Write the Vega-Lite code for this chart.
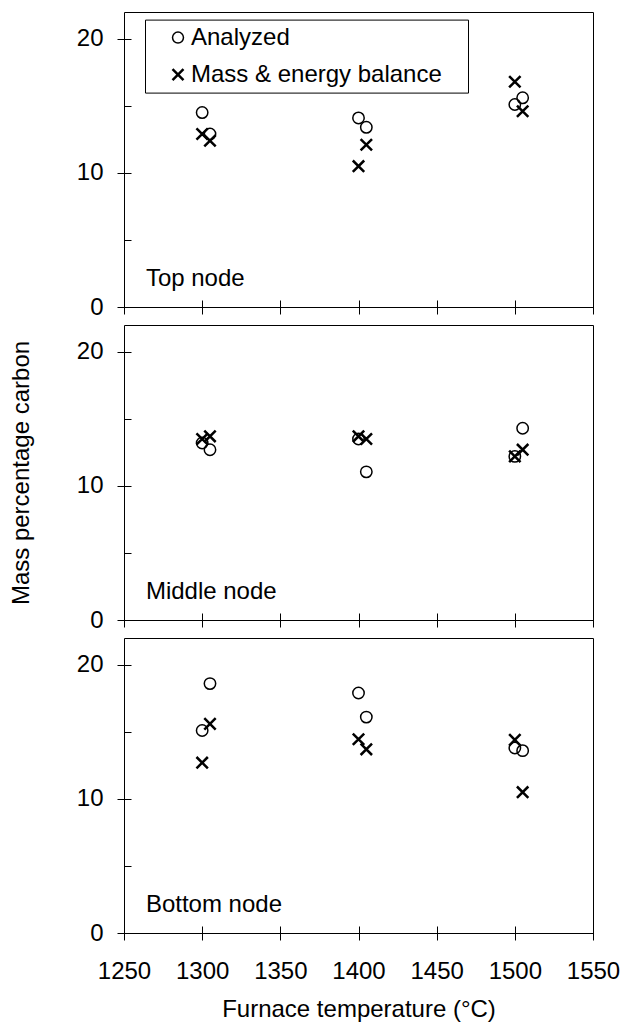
{
  "$schema": "https://vega.github.io/schema/vega-lite/v6.json",
  "padding": {"left": 8, "top": 11, "right": 5, "bottom": 5},
  "config": {
    "font": "Liberation Sans",
    "view": {"stroke": "black", "strokeWidth": 1},
    "axis": {
      "domain": false, "grid": false, "tickColor": "black", "tickWidth": 1, "labelOverlap": false, "labelFlush": false,
      "labelFontSize": 24, "labelColor": "black", "labelFont": "Liberation Sans",
      "titleFontSize": 24, "titleFontWeight": "normal", "titleColor": "black", "titleFont": "Liberation Sans"
    },
    "legend": {
      "labelFontSize": 24, "labelColor": "black", "labelFont": "Liberation Sans", "labelLimit": 500
    }
  },
  "datasets": {
    "pts": [
      {"node": "Top", "series": "Analyzed", "T": 1300, "C": 14.5},
      {"node": "Top", "series": "Analyzed", "T": 1305, "C": 12.9},
      {"node": "Top", "series": "Analyzed", "T": 1400, "C": 14.1},
      {"node": "Top", "series": "Analyzed", "T": 1405, "C": 13.4},
      {"node": "Top", "series": "Analyzed", "T": 1500, "C": 15.1},
      {"node": "Top", "series": "Analyzed", "T": 1505, "C": 15.6},
      {"node": "Top", "series": "Mass & energy balance", "T": 1300, "C": 12.9},
      {"node": "Top", "series": "Mass & energy balance", "T": 1305, "C": 12.4},
      {"node": "Top", "series": "Mass & energy balance", "T": 1400, "C": 10.5},
      {"node": "Top", "series": "Mass & energy balance", "T": 1405, "C": 12.1},
      {"node": "Top", "series": "Mass & energy balance", "T": 1500, "C": 16.8},
      {"node": "Top", "series": "Mass & energy balance", "T": 1505, "C": 14.6},
      {"node": "Middle", "series": "Analyzed", "T": 1300, "C": 13.2},
      {"node": "Middle", "series": "Analyzed", "T": 1305, "C": 12.7},
      {"node": "Middle", "series": "Analyzed", "T": 1400, "C": 13.5},
      {"node": "Middle", "series": "Analyzed", "T": 1405, "C": 11.05},
      {"node": "Middle", "series": "Analyzed", "T": 1500, "C": 12.2},
      {"node": "Middle", "series": "Analyzed", "T": 1505, "C": 14.3},
      {"node": "Middle", "series": "Mass & energy balance", "T": 1300, "C": 13.5},
      {"node": "Middle", "series": "Mass & energy balance", "T": 1305, "C": 13.7},
      {"node": "Middle", "series": "Mass & energy balance", "T": 1400, "C": 13.7},
      {"node": "Middle", "series": "Mass & energy balance", "T": 1405, "C": 13.5},
      {"node": "Middle", "series": "Mass & energy balance", "T": 1500, "C": 12.2},
      {"node": "Middle", "series": "Mass & energy balance", "T": 1505, "C": 12.7},
      {"node": "Bottom", "series": "Analyzed", "T": 1300, "C": 15.1},
      {"node": "Bottom", "series": "Analyzed", "T": 1305, "C": 18.6},
      {"node": "Bottom", "series": "Analyzed", "T": 1400, "C": 17.9},
      {"node": "Bottom", "series": "Analyzed", "T": 1405, "C": 16.1},
      {"node": "Bottom", "series": "Analyzed", "T": 1500, "C": 13.8},
      {"node": "Bottom", "series": "Analyzed", "T": 1505, "C": 13.6},
      {"node": "Bottom", "series": "Mass & energy balance", "T": 1300, "C": 12.7},
      {"node": "Bottom", "series": "Mass & energy balance", "T": 1305, "C": 15.6},
      {"node": "Bottom", "series": "Mass & energy balance", "T": 1400, "C": 14.45},
      {"node": "Bottom", "series": "Mass & energy balance", "T": 1405, "C": 13.7},
      {"node": "Bottom", "series": "Mass & energy balance", "T": 1500, "C": 14.4},
      {"node": "Bottom", "series": "Mass & energy balance", "T": 1505, "C": 10.5}
    ]
  },
  "spacing": 4,
  "resolve": {"legend": {"shape": "independent", "strokeWidth": "independent"}},
  "vconcat": [
    {
      "width": 469, "height": 295,
      "layer": [
        {
          "data": {"name": "pts"},
          "transform": [{"filter": "datum.node === 'Top'"}],
          "mark": {"type": "point", "filled": false, "color": "black", "size": 130, "opacity": 1},
          "encoding": {
            "x": {"field": "T", "type": "quantitative", "scale": {"domain": [1250, 1550], "nice": false},
                  "axis": {"values": [1250, 1300, 1350, 1400, 1450, 1500, 1550], "offset": -7, "tickSize": 14, "labels": false, "title": null}},
            "y": {"field": "C", "type": "quantitative", "scale": {"domain": [0, 22], "nice": false},
                  "axis": {"values": [0, 5, 10, 15, 20], "offset": -7,
                           "tickSize": {"condition": {"test": "datum.value % 10 === 0", "value": 14}, "value": 7},
                           "labelExpr": "datum.value % 10 === 0 ? datum.label : ''", "labelPadding": 14, "title": null}},
            "shape": {"field": "series", "type": "nominal",
                      "scale": {"domain": ["Analyzed", "Mass & energy balance"], "range": ["circle", "M-1,-1L1,1M-1,1L1,-1"]},
                      "legend": {"orient": "none", "legendX": 21, "legendY": 7.6, "title": null, "strokeColor": "black", "fillColor": "white",
                                 "padding": 6, "symbolOffset": 15, "labelOffset": 1, "rowPadding": 13, "symbolSize": 120,
                                 "symbolStrokeColor": "black", "labelExpr": "datum.label + '\u00a0\u00a0\u00a0\u200b'"}},
            "strokeWidth": {"field": "series", "type": "nominal",
                      "scale": {"domain": ["Analyzed", "Mass & energy balance"], "range": [1.5, 2.5]},
                      "legend": {"orient": "none", "legendX": 21, "legendY": 7.6, "title": null, "strokeColor": "black", "fillColor": "white",
                                 "padding": 6, "symbolOffset": 15, "labelOffset": 1, "rowPadding": 13, "symbolSize": 120,
                                 "symbolStrokeColor": "black", "labelExpr": "datum.label + '\u00a0\u00a0\u00a0\u200b'"}}
          }
        },
        {
          "data": {"values": [{"label": "Top node"}]},
          "mark": {"type": "text", "align": "left", "baseline": "alphabetic", "fontSize": 24, "font": "Liberation Sans", "color": "black"},
          "encoding": {"x": {"datum": 1264, "type": "quantitative"}, "y": {"datum": 1.6, "type": "quantitative"}, "text": {"field": "label"}}
        }
      ]
    },
    {
      "width": 469, "height": 295,
      "layer": [
        {
          "data": {"name": "pts"},
          "transform": [{"filter": "datum.node === 'Middle'"}],
          "mark": {"type": "point", "filled": false, "color": "black", "size": 130, "opacity": 1},
          "encoding": {
            "x": {"field": "T", "type": "quantitative", "scale": {"domain": [1250, 1550], "nice": false},
                  "axis": {"values": [1250, 1300, 1350, 1400, 1450, 1500, 1550], "offset": -7, "tickSize": 14, "labels": false, "title": null}},
            "y": {"field": "C", "type": "quantitative", "scale": {"domain": [0, 22], "nice": false},
                  "axis": {"values": [0, 5, 10, 15, 20], "offset": -7,
                           "tickSize": {"condition": {"test": "datum.value % 10 === 0", "value": 14}, "value": 7},
                           "labelExpr": "datum.value % 10 === 0 ? datum.label : ''", "labelPadding": 14,
                           "title": "Mass percentage carbon", "titlePadding": 43}},
            "shape": {"field": "series", "type": "nominal",
                      "scale": {"domain": ["Analyzed", "Mass & energy balance"], "range": ["circle", "M-1,-1L1,1M-1,1L1,-1"]},
                      "legend": null},
            "strokeWidth": {"field": "series", "type": "nominal",
                      "scale": {"domain": ["Analyzed", "Mass & energy balance"], "range": [1.5, 2.5]},
                      "legend": null}
          }
        },
        {
          "data": {"values": [{"label": "Middle node"}]},
          "mark": {"type": "text", "align": "left", "baseline": "alphabetic", "fontSize": 24, "font": "Liberation Sans", "color": "black"},
          "encoding": {"x": {"datum": 1264, "type": "quantitative"}, "y": {"datum": 1.6, "type": "quantitative"}, "text": {"field": "label"}}
        }
      ]
    },
    {
      "width": 469, "height": 295,
      "layer": [
        {
          "data": {"name": "pts"},
          "transform": [{"filter": "datum.node === 'Bottom'"}],
          "mark": {"type": "point", "filled": false, "color": "black", "size": 130, "opacity": 1},
          "encoding": {
            "x": {"field": "T", "type": "quantitative", "scale": {"domain": [1250, 1550], "nice": false},
                  "axis": {"values": [1250, 1300, 1350, 1400, 1450, 1500, 1550], "offset": -7, "tickSize": 14,
                           "format": "d", "labelPadding": 19, "title": "Furnace temperature (°C)", "titlePadding": 14}},
            "y": {"field": "C", "type": "quantitative", "scale": {"domain": [0, 22], "nice": false},
                  "axis": {"values": [0, 5, 10, 15, 20], "offset": -7,
                           "tickSize": {"condition": {"test": "datum.value % 10 === 0", "value": 14}, "value": 7},
                           "labelExpr": "datum.value % 10 === 0 ? datum.label : ''", "labelPadding": 14, "title": null}},
            "shape": {"field": "series", "type": "nominal",
                      "scale": {"domain": ["Analyzed", "Mass & energy balance"], "range": ["circle", "M-1,-1L1,1M-1,1L1,-1"]},
                      "legend": null},
            "strokeWidth": {"field": "series", "type": "nominal",
                      "scale": {"domain": ["Analyzed", "Mass & energy balance"], "range": [1.5, 2.5]},
                      "legend": null}
          }
        },
        {
          "data": {"values": [{"label": "Bottom node"}]},
          "mark": {"type": "text", "align": "left", "baseline": "alphabetic", "fontSize": 24, "font": "Liberation Sans", "color": "black"},
          "encoding": {"x": {"datum": 1264, "type": "quantitative"}, "y": {"datum": 1.6, "type": "quantitative"}, "text": {"field": "label"}}
        }
      ]
    }
  ]
}
